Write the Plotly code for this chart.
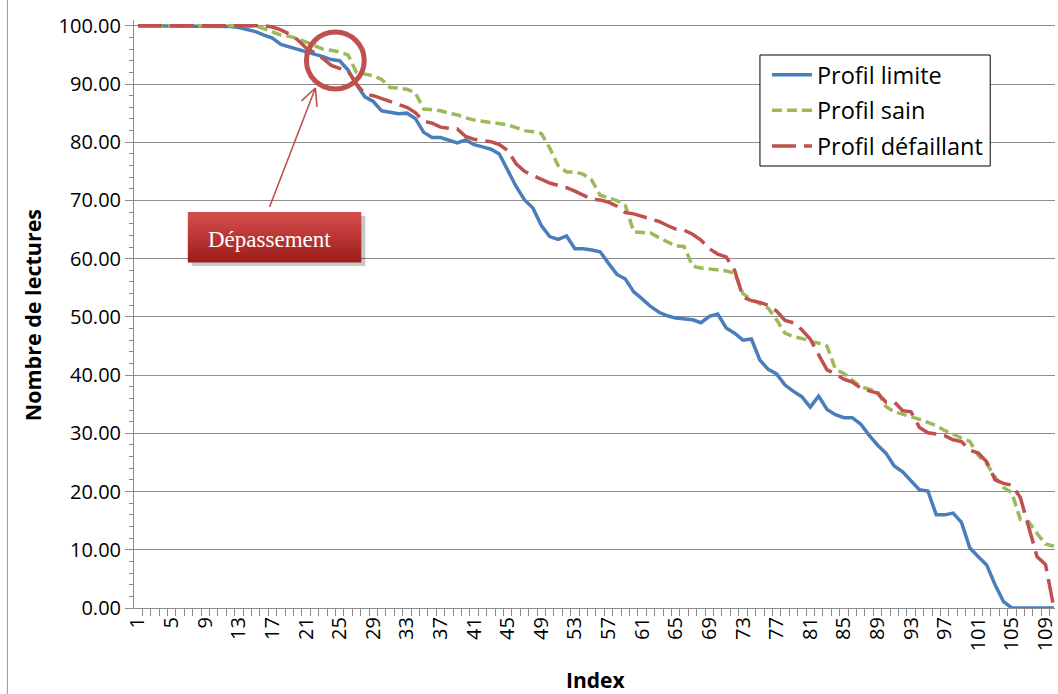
import math
import plotly.graph_objects as go

# ---- data -----------------------------------------------------------------
index = list(range(1, 111))

profil_limite = [
    100, 100, 100, 100, 100, 100, 100, 100, 100, 100, 100,
    99.9, 99.7, 99.4, 99.0, 98.4, 97.9, 96.8, 96.4, 95.9, 95.5,
    95.2, 94.7, 94.2, 94.0, 92.4, 89.9, 87.8, 87.0, 85.4, 85.1,
    84.9, 85.0, 84.1, 81.7, 80.8, 80.8, 80.4, 79.9, 80.4, 79.6,
    79.2, 78.8, 78.0, 75.3, 72.4, 70.1, 68.7, 65.7, 63.8, 63.3,
    63.9, 61.7, 61.7, 61.5, 61.2, 59.2, 57.3, 56.5, 54.3, 53.1,
    51.8, 50.8, 50.2, 49.8, 49.7, 49.5, 49.0, 50.1, 50.5, 48.1,
    47.2, 46.0, 46.2, 42.6, 41.0, 40.2, 38.3, 37.2, 36.3, 34.5,
    36.4, 34.1, 33.2, 32.7, 32.7, 31.6, 29.7, 28.0, 26.6, 24.4,
    23.4, 21.9, 20.3, 20.1, 16.0, 16.0, 16.3, 14.7, 10.3, 8.8,
    7.4, 4.0, 1.1, 0, 0, 0, 0, 0, 0,
]

profil_sain = [
    100, 100, 100, 100, 100, 100, 100, 100, 100, 100, 100, 100, 100, 100, 100,
    99.5, 98.9, 98.4, 98.2, 97.8, 97.2, 96.6, 96.0, 95.8, 95.5,
    95.0, 92.0, 91.7, 91.4, 90.8, 89.4, 89.3, 89.1, 88.5, 85.7,
    85.6, 85.4, 85.0, 84.7, 84.2, 83.8, 83.6, 83.4, 83.3, 83.0,
    82.5, 82.0, 81.8, 81.5, 79.0, 76.0, 74.9, 74.9, 74.5, 73.5,
    70.9, 70.5, 70.0, 69.1, 64.6, 64.5, 64.4, 63.6, 62.9, 62.2,
    62.1, 58.7, 58.4, 58.2, 58.1, 57.9, 57.5, 54.0, 53.0, 52.2,
    51.5, 49.5, 47.2, 46.6, 46.3, 45.8, 45.5, 45.0, 41.0, 40.3,
    39.2, 38.0, 37.6, 37.2, 34.6, 33.7, 33.3, 32.9, 32.4, 31.9,
    31.3, 30.5, 29.8, 29.2, 28.6, 26.2, 24.8, 22.5, 20.7, 19.8,
    15.2, 14.8, 12.8, 11.0, 10.6,
]

profil_defaillant = [
    100, 100, 100, 100, 100, 100, 100, 100, 100, 100, 100, 100, 100, 100, 100, 100,
    99.8, 99.3, 98.6, 97.6, 96.2, 95.4, 94.4, 93.2, 92.7, 92.2,
    90.0, 88.3, 88.0, 87.5, 86.9, 86.4, 86.0, 85.1, 83.6, 83.3,
    82.6, 82.4, 82.3, 81.0, 80.5, 80.3, 80.1, 79.6, 78.6, 76.3,
    75.0, 74.3, 73.7, 73.0, 72.6, 72.2, 71.6, 70.9, 70.2, 70.1,
    69.7, 69.0, 67.9, 67.7, 67.3, 66.9, 66.4, 65.7, 65.1, 64.9,
    64.2, 63.2, 61.7, 60.8, 60.3, 58.0, 53.4, 52.8, 52.5, 52.0,
    51.0, 49.4, 49.0, 47.8, 46.2, 43.5, 40.9, 40.2, 39.3, 38.8,
    37.8, 37.3, 36.9, 35.4, 35.4, 33.9, 33.7, 31.0, 30.1, 29.9,
    29.6, 28.9, 28.6, 27.1, 26.6, 25.1, 22.0, 21.4, 21.1, 19.0,
    14.0, 8.8, 7.5, 0.0,
]

x_tick_values = list(range(1, 111, 4))
x_tick_labels = [str(v) for v in x_tick_values]

# ---- canvas geometry (pixels) --------------------------------------------
W, H = 1058, 694
ML, MR, MT, MB = 134, 0, 20, 86
PW, PH = W - ML - MR, H - MT - MB


def px(x):
    """pixel column -> paper x"""
    return (x - ML) / PW


def py(y):
    """pixel row -> paper y"""
    return (H - MB - y) / PH


BLUE, GREEN, RED = "#4A7EBB", "#9BBB59", "#C0504D"
GRID = "#8C8C8C"
FONT = "Open Sans"

fig = go.Figure()
fig.add_trace(go.Scatter(x=index, y=profil_limite, mode="lines", name="Profil limite",
                         line=dict(color=BLUE, width=3.5), legendgroup="a"))
fig.add_trace(go.Scatter(x=index, y=profil_sain, mode="lines", name="Profil sain",
                         line=dict(color=GREEN, width=3.5, dash="10px,5px"), legendgroup="b"))
fig.add_trace(go.Scatter(x=index, y=profil_defaillant, mode="lines", name="Profil défaillant",
                         line=dict(color=RED, width=3.5, dash="24px,8px"), legendgroup="c"))

shapes = []

# legend frame (drawn as a shape so the entries can sit further inside)
shapes.append(dict(type="rect", xref="paper", yref="paper",
                   x0=px(762), x1=px(993), y0=py(166), y1=py(55),
                   fillcolor="white", line=dict(color="black", width=1), layer="above"))

# callout box with a vertical red gradient and a soft shadow
bx0, bx1, by0, by1 = 188, 362, 212, 262
shapes.append(dict(type="rect", xref="paper", yref="paper",
                   x0=px(bx0 + 4), x1=px(bx1 + 4), y0=py(by1 + 4), y1=py(by0 + 4),
                   fillcolor="rgba(0,0,0,0.22)", line=dict(width=0), layer="above"))
n_strips = 20
top_rgb, bot_rgb = (212, 78, 76), (158, 30, 28)
for k in range(n_strips):
    t = k / (n_strips - 1)
    c = tuple(round(top_rgb[j] + (bot_rgb[j] - top_rgb[j]) * t) for j in range(3))
    ya = by0 + (by1 - by0) * k / n_strips
    yb = by0 + (by1 - by0) * (k + 1) / n_strips
    shapes.append(dict(type="rect", xref="paper", yref="paper",
                       x0=px(bx0), x1=px(bx1), y0=py(yb + 0.5), y1=py(ya),
                       fillcolor="rgb(%d,%d,%d)" % c, line=dict(width=0), layer="above"))

# highlight circle
shapes.append(dict(type="circle", xref="paper", yref="paper",
                   x0=px(307), x1=px(365), y0=py(89), y1=py(32),
                   line=dict(color=RED, width=5), layer="above"))

# arrow from the callout to the circle
tail, tip = (270, 207), (316, 88)
shapes.append(dict(type="line", xref="paper", yref="paper",
                   x0=px(tail[0]), y0=py(tail[1]), x1=px(tip[0]), y1=py(tip[1]),
                   line=dict(color=RED, width=1.6), layer="above"))
dx, dy = tail[0] - tip[0], tail[1] - tip[1]
ln = math.hypot(dx, dy)
ux, uy = dx / ln, dy / ln
for ang in (math.radians(26), math.radians(-26)):
    rx = ux * math.cos(ang) - uy * math.sin(ang)
    ry = ux * math.sin(ang) + uy * math.cos(ang)
    shapes.append(dict(type="line", xref="paper", yref="paper",
                       x0=px(tip[0]), y0=py(tip[1]),
                       x1=px(tip[0] + 19 * rx), y1=py(tip[1] + 19 * ry),
                       line=dict(color=RED, width=1.6), layer="above"))

# left edge of the chart frame
shapes.append(dict(type="line", xref="paper", yref="paper",
                   x0=px(7), x1=px(7), y0=py(0), y1=py(H),
                   line=dict(color="#9A9A9A", width=1)))

annotations = [
    dict(text="Dépassement", xref="paper", yref="paper", x=px(270), y=py(239),
         xanchor="center", yanchor="middle", showarrow=False,
         font=dict(family="Liberation Serif", size=23, color="white")),
    dict(text="<b>Nombre de lectures</b>", xref="paper", yref="paper", x=px(32), y=py(315),
         xanchor="center", yanchor="middle", textangle=-90, showarrow=False,
         font=dict(family=FONT, size=21.5, color="black")),
    dict(text="<b>Index</b>", xref="paper", yref="paper", x=px(597), y=py(680),
         xanchor="center", yanchor="middle", showarrow=False,
         font=dict(family=FONT, size=21, color="black")),
]

fig.update_layout(
    width=W, height=H,
    margin=dict(l=ML, r=MR, t=MT, b=MB, pad=0),
    paper_bgcolor="white", plot_bgcolor="white",
    font=dict(family=FONT, color="black"),
    shapes=shapes, annotations=annotations,
    legend=dict(x=px(769), y=py(53), xanchor="left", yanchor="top",
                bgcolor="rgba(0,0,0,0)", borderwidth=0,
                font=dict(family=FONT, size=23.5, color="black"),
                itemwidth=40, tracegroupgap=2, traceorder="grouped"),
    showlegend=True,
)

fig.update_xaxes(
    range=[0.525, 110.13],
    tickmode="linear", tick0=1, dtick=4, tickangle=-90,
    tickfont=dict(family=FONT, size=20, color="black"),
    ticklabeloverflow="allow",
    ticks="", showgrid=False, zeroline=False,
    showline=True, linecolor=GRID, linewidth=1,
    minor=dict(tick0=0.5, dtick=1, ticks="outside", ticklen=7, tickcolor=GRID, showgrid=False),
)
fig.update_yaxes(
    range=[0, 101],
    tickmode="linear", tick0=0, dtick=10, tickformat=".2f",
    tickfont=dict(family=FONT, size=20, color="black"),
    ticks="outside", ticklen=8, tickcolor=GRID,
    showgrid=True, gridcolor=GRID, gridwidth=1, zeroline=False,
    showline=True, linecolor=GRID, linewidth=1,
    minor=dict(dtick=2, ticks="outside", ticklen=4, tickcolor=GRID, showgrid=False),
)

fig.write_html("out.html")
